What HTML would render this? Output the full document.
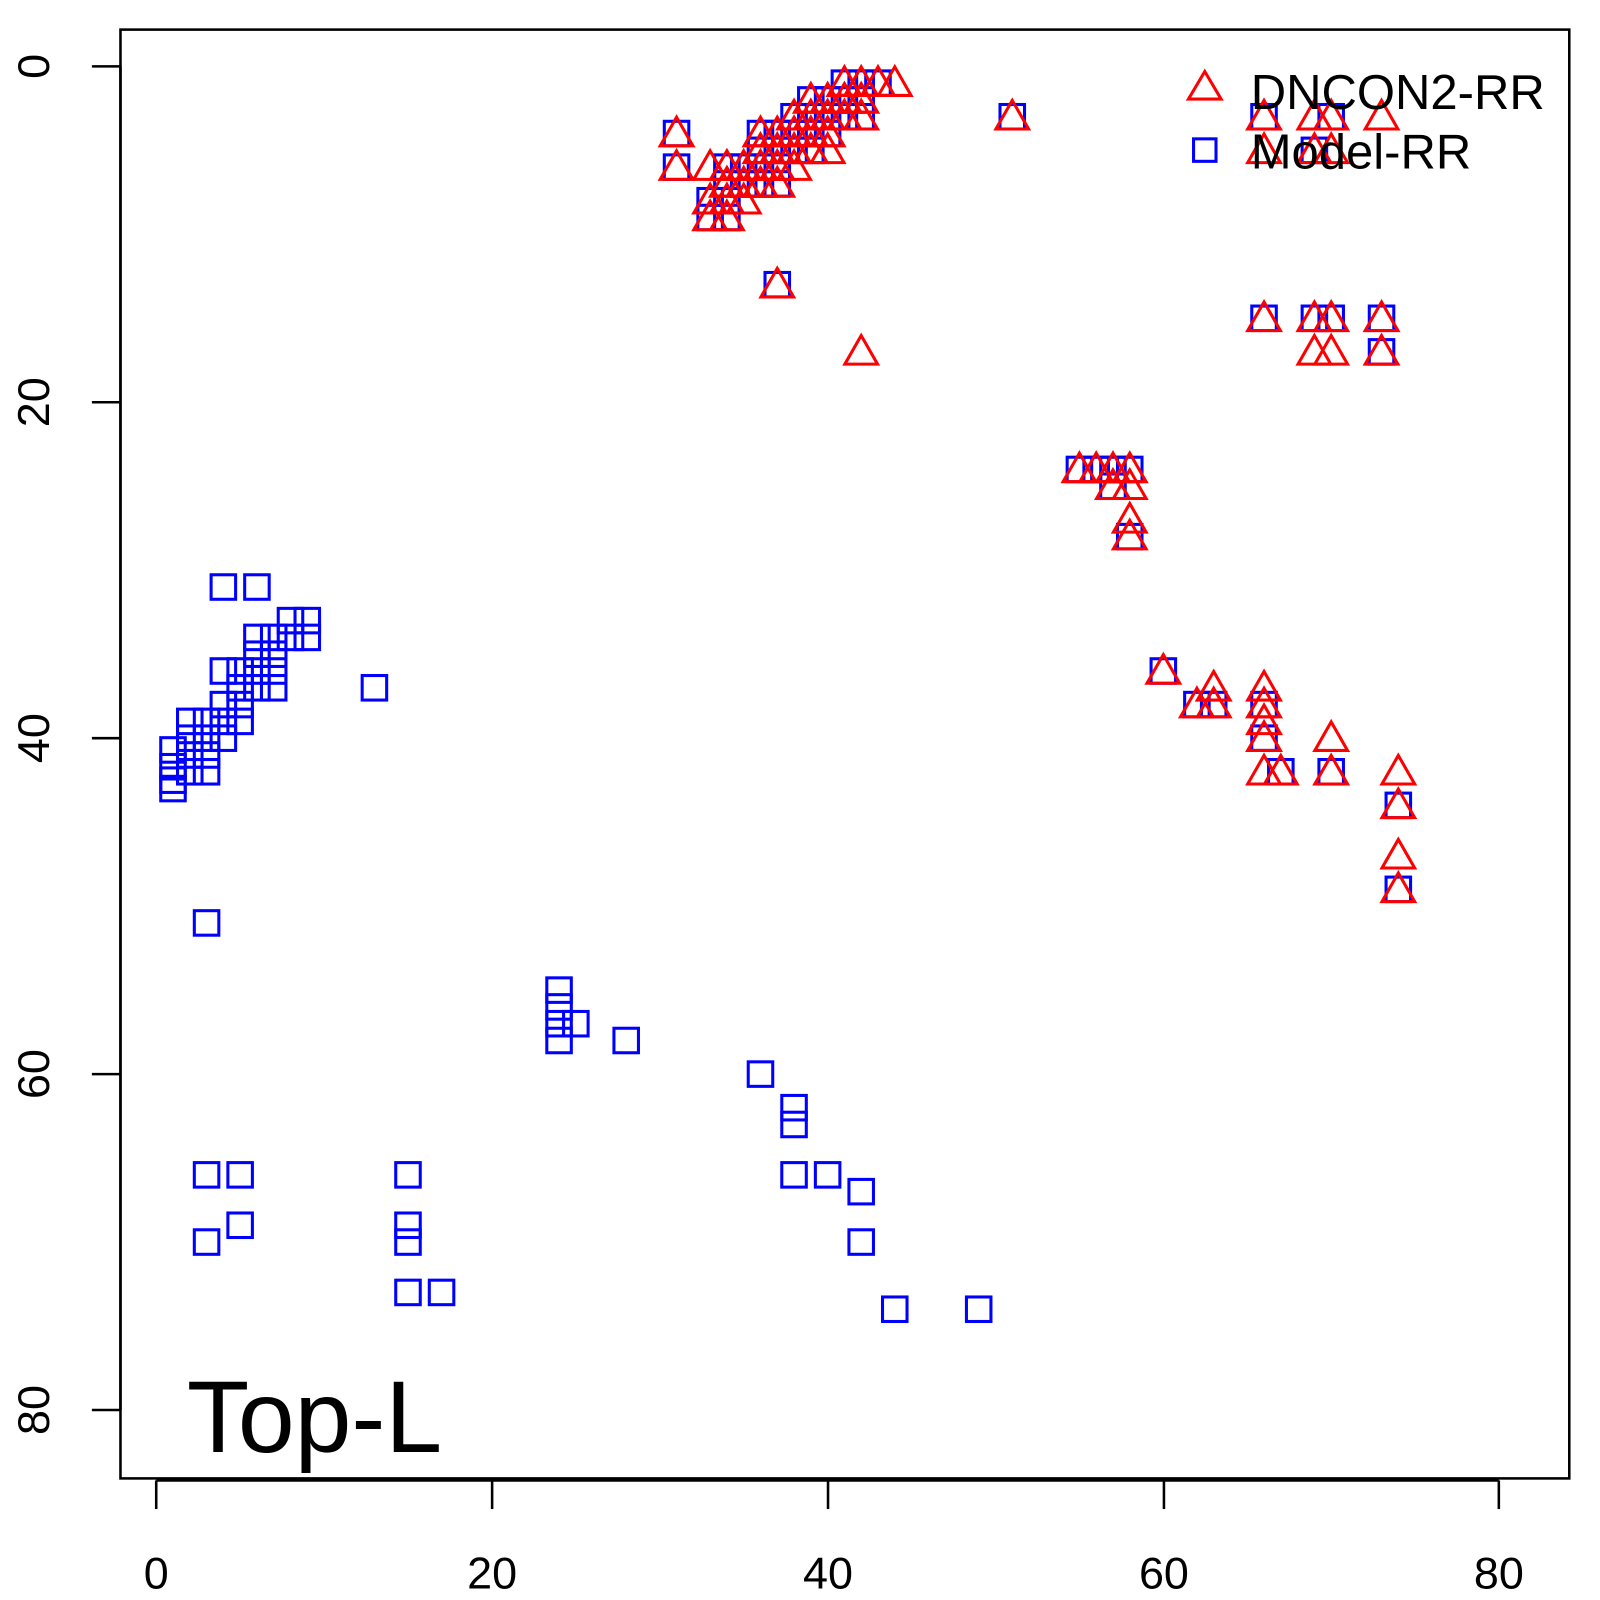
<!DOCTYPE html>
<html><head><meta charset="utf-8"><style>body{margin:0;background:#fff}svg{display:block}</style></head>
<body>
<svg id="s" width="1600" height="1600" viewBox="0 0 1600 1600" xmlns="http://www.w3.org/2000/svg" font-family="Liberation Sans, sans-serif">
<g transform="scale(1.021)">
<rect x="118" y="29" width="1419" height="1419" fill="none" stroke="#000" stroke-width="2.5"/>
<g stroke="#000" stroke-width="2.5">
<line x1="153" y1="1450" x2="1468" y2="1450"/>
<line x1="153" y1="1450" x2="153" y2="1478"/><line x1="482" y1="1450" x2="482" y2="1478"/>
<line x1="811" y1="1450" x2="811" y2="1478"/><line x1="1140" y1="1450" x2="1140" y2="1478"/>
<line x1="1468" y1="1450" x2="1468" y2="1478"/>
<line x1="118" y1="65" x2="118" y2="1381"/>
<line x1="90" y1="65" x2="118" y2="65"/><line x1="90" y1="394" x2="118" y2="394"/>
<line x1="90" y1="723" x2="118" y2="723"/><line x1="90" y1="1052" x2="118" y2="1052"/>
<line x1="90" y1="1381" x2="118" y2="1381"/>
</g>
<g font-size="44" text-anchor="middle" fill="#000">
<text x="153" y="1556">0</text><text x="482" y="1556">20</text><text x="811" y="1556">40</text><text x="1140" y="1556">60</text><text x="1468" y="1556">80</text>
<text transform="translate(48,65) rotate(-90)">0</text>
<text transform="translate(48,394) rotate(-90)">20</text>
<text transform="translate(48,723) rotate(-90)">40</text>
<text transform="translate(48,1052) rotate(-90)">60</text>
<text transform="translate(48,1381) rotate(-90)">80</text>
</g>
<g id="m"></g>
<polygon points="1180,70 1164,97 1196,97" fill="none" stroke="#f00" stroke-width="3"/>
<rect x="1169" y="136" width="22" height="22" fill="none" stroke="#00f" stroke-width="3"/>
<text x="1225" y="107" font-size="48" fill="#000">DNCON2-RR</text>
<text x="1225" y="165" font-size="48" fill="#000">Model-RR</text>
<text x="183" y="1422" font-size="100" fill="#000">Top-L</text>
</g>
</svg>
<script>
var g=document.getElementById('m'),ns='http://www.w3.org/2000/svg';
function P(x,y){return [153+16.44*x,65+16.45*y];}
function sq(x,y){var p=P(x,y),r=document.createElementNS(ns,'rect');r.setAttribute('x',p[0]-12);r.setAttribute('y',p[1]-12);r.setAttribute('width',24);r.setAttribute('height',24);r.setAttribute('fill','none');r.setAttribute('stroke','#00f');r.setAttribute('stroke-width',3);g.appendChild(r);}
function tr(x,y){var p=P(x,y),r=document.createElementNS(ns,'polygon');var a=p[0],b=p[1];r.setAttribute('points',(a)+','+(b-16)+' '+(a-16)+','+(b+12)+' '+(a+16)+','+(b+12));r.setAttribute('fill','none');r.setAttribute('stroke','#f00');r.setAttribute('stroke-width',3);g.appendChild(r);}
var S=[[4,31],[6,31],[8,33],[9,33],[8,34],[9,34],[6,34],[7,34],[6,35],[7,35],[6,36],[7,36],[6,37],[7,37],[4,36],[5,36],[5,37],[5,38],[5,39],[4,38],[4,39],[4,40],[3,39],[3,40],[3,41],[3,42],[2,39],[2,40],[2,41],[2,42],[1,40.7],[1,41.7],[1,42.5],[1,43],[13,37],
[3,51],[24,55],[24,56],[24,57],[24,58],[25,57],[28,58],[36,60],[38,62],[38,63],[38,66],[40,66],[42,67],[42,70],[44,74],[49,74],[3,66],[5,66],[3,70],[5,69],[15,66],[15,69],[15,70],[15,73],[17,73]];
var B=[[31,4],[31,6],[33,8],[33,9],[34,6],[34,7],[34,8],[34,9],[35,6],[35,7],[36,4],[36,5],[36,6],[36,7],[37,4],[37,5],[37,6],[37,7],[38,3],[38,4],[38,5],[39,2],[39,3],[39,4],[39,5],[40,2],[40,3],[40,4],[41,1],[41,2],[41,3],[42,1],[42,2],[42,3],[43,1],[37,13],[51,3],
[66,3],[70,3],[66,15],[69,15],[70,15],[73,15],[73,17],[69,5],[55,24],[56,24],[57,24],[58,24],[57,25],[58,28],[60,36],[62,38],[63,38],[66,38],[66,40],[67,42],[70,42],[74,44],[74,49]];
var T=[[33,6],[35,8],[38,6],[40,5],[44,1],[42,17],[66,5],[69,3],[70,5],[73,3],[69,17],[70,17],[58,25],[58,27],[63,37],[66,37],[66,39],[66,42],[70,40],[74,42],[74,47]];
S.forEach(function(p){sq(p[0],p[1]);});
B.forEach(function(p){sq(p[0],p[1]);});
B.forEach(function(p){tr(p[0],p[1]);});
T.forEach(function(p){tr(p[0],p[1]);});
</script>
</body></html>
